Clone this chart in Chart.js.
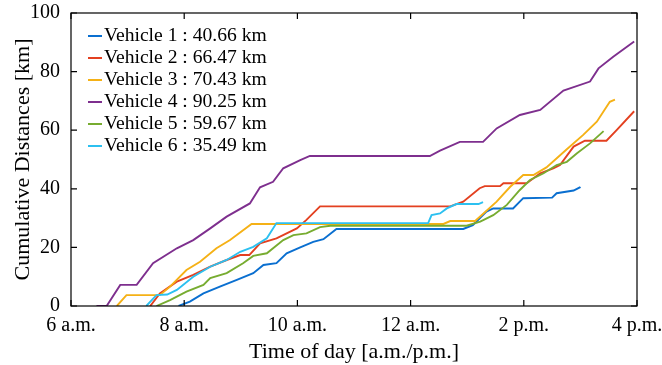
<!DOCTYPE html>
<html>
<head>
<meta charset="utf-8">
<script src="https://cdn.jsdelivr.net/npm/chart.js@4/dist/chart.umd.min.js"></script>
<style>
  body { margin: 0; background: #fff; }
  #wrap { position: relative; width: 662px; height: 365px; }
  #legend { position: absolute; left: 88px; top: 24px; font-family: 'Liberation Serif', 'Times New Roman', serif; font-size: 19.6px; color: #000; }
  .row { height: 22px; line-height: 22px; white-space: nowrap; }
  .swatch { display: inline-block; width: 14px; height: 2px; vertical-align: middle; margin-right: 2px; position: relative; top: -1px; }
</style>
</head>
<body>
<div id="wrap">
  <canvas id="chart" width="662" height="365"></canvas>
  <div id="legend"></div>
</div>
<script>
const timeLabels = ['6 a.m.', '8 a.m.', '10 a.m.', '12 a.m.', '2 p.m.', '4 p.m.'];
const vehicleNames = ['Vehicle 1 : 40.66 km', 'Vehicle 2 : 66.47 km', 'Vehicle 3 : 70.43 km',
  'Vehicle 4 : 90.25 km', 'Vehicle 5 : 59.67 km', 'Vehicle 6 : 35.49 km'];
const colors = ['#0a6fd0', '#e34020', '#f5b116', '#7e2f8e', '#77ac30', '#2cc0f0'];

// hours of day / cumulative km
const v1Time = [7.9, 8.1, 8.34, 8.63, 8.93, 9.22, 9.4, 9.63, 9.81, 10.05, 10.28, 10.46, 10.69, 12.93, 13.1, 13.34, 13.46, 13.81, 13.99, 14.5, 14.58, 14.88, 14.99, 15.0];
const v1Km = [0, 1.5, 4.3, 6.6, 8.9, 11.2, 14.0, 14.6, 18.0, 20.0, 21.9, 22.8, 26.3, 26.3, 27.6, 32.2, 33.3, 33.3, 36.8, 37.0, 38.5, 39.4, 40.5, 40.66];

const v2Time = [7.4, 7.57, 7.87, 8.16, 8.46, 8.75, 8.99, 9.15, 9.34, 9.63, 9.99, 10.16, 10.4, 12.7, 12.93, 13.22, 13.31, 13.58, 13.64, 14.05, 14.29, 14.52, 14.64, 14.88, 15.08, 15.46, 15.64, 15.95];
const v2Km = [0, 4.3, 8.3, 10.6, 13.4, 15.7, 17.4, 17.4, 21.4, 23.1, 26.5, 29.4, 34.0, 34.0, 35.6, 40.2, 40.9, 40.9, 41.9, 41.9, 45.3, 47.0, 48.1, 54.4, 56.4, 56.4, 60.0, 66.47];

const v3Time = [6.81, 6.98, 7.57, 7.75, 8.04, 8.28, 8.57, 8.81, 9.19, 12.58, 12.7, 13.14, 13.52, 13.76, 13.99, 14.17, 14.4, 14.76, 15.05, 15.29, 15.52, 15.61];
const v3Km = [0, 3.7, 3.7, 6.6, 12.3, 15.1, 19.7, 22.5, 28.0, 28.0, 29.0, 29.0, 35.6, 40.7, 44.7, 44.7, 47.3, 53.5, 58.4, 62.9, 69.7, 70.43];

const v4Time = [6.45, 6.63, 6.87, 7.16, 7.45, 7.87, 8.16, 8.46, 8.75, 9.16, 9.34, 9.57, 9.75, 10.05, 10.22, 12.34, 12.52, 12.87, 13.28, 13.52, 13.93, 14.29, 14.7, 15.17, 15.32, 15.58, 15.95];
const v4Km = [0, 0, 7.2, 7.2, 14.6, 19.7, 22.5, 26.5, 30.5, 35.0, 40.5, 42.4, 47.0, 49.8, 51.2, 51.2, 53.0, 56.0, 56.0, 60.6, 65.2, 66.9, 73.5, 76.6, 81.1, 85.1, 90.25];

const v5Time = [7.51, 7.75, 8.04, 8.34, 8.46, 8.75, 9.04, 9.22, 9.46, 9.75, 9.93, 10.16, 10.4, 10.58, 12.99, 13.23, 13.46, 13.7, 13.93, 14.11, 14.35, 14.58, 14.76, 14.94, 15.17, 15.41];
const v5Km = [0, 2.0, 4.9, 7.2, 9.5, 11.2, 14.6, 17.1, 18.0, 22.5, 24.2, 24.8, 26.9, 27.4, 27.4, 28.8, 31.0, 34.5, 39.6, 43.0, 45.3, 48.1, 49.2, 52.1, 55.5, 59.67];

const v6Time = [7.33, 7.51, 7.7, 7.87, 8.16, 8.46, 8.75, 8.99, 9.22, 9.46, 9.63, 12.31, 12.37, 12.52, 12.64, 12.81, 13.2, 13.28];
const v6Km = [0, 3.7, 3.9, 5.5, 10.0, 13.4, 15.7, 18.5, 20.2, 23.1, 28.3, 28.3, 31.0, 31.6, 33.3, 34.8, 34.8, 35.49];

const yTicks = [0, 20, 40, 60, 80, 100];

const series = [[v1Time, v1Km], [v2Time, v2Km], [v3Time, v3Km], [v4Time, v4Km], [v5Time, v5Km], [v6Time, v6Km]];
const FONT = "'Liberation Serif', 'Times New Roman', serif";

// matlab style box with inward ticks
const frame = {
  id: 'frame',
  afterDraw(chart) {
    const { ctx, chartArea: a, scales: { x, y } } = chart;
    ctx.save();
    ctx.strokeStyle = '#000';
    ctx.lineWidth = 1.2;
    ctx.strokeRect(a.left, a.top, a.right - a.left, a.bottom - a.top);
    ctx.beginPath();
    x.ticks.forEach(t => {
      const px = x.getPixelForValue(t.value);
      ctx.moveTo(px, a.bottom); ctx.lineTo(px, a.bottom - 6);
      ctx.moveTo(px, a.top); ctx.lineTo(px, a.top + 6);
    });
    y.ticks.forEach(t => {
      const py = y.getPixelForValue(t.value);
      ctx.moveTo(a.left, py); ctx.lineTo(a.left + 6, py);
      ctx.moveTo(a.right, py); ctx.lineTo(a.right - 6, py);
    });
    ctx.stroke();
    ctx.restore();
  }
};

const datasets = series.map(([t, km], i) => ({
  label: vehicleNames[i],
  data: t.map((h, j) => ({ x: h, y: km[j] })),
  borderColor: colors[i],
  borderWidth: 1.9,
  pointRadius: 0,
  tension: 0,
  fill: false,
  order: series.length - i
}));

new Chart(document.getElementById('chart'), {
  type: 'line',
  data: { datasets },
  options: {
    responsive: false,
    animation: false,
    devicePixelRatio: 1,
    layout: { padding: { top: 13, right: 25, left: 0, bottom: 0 } },
    plugins: { legend: { display: false }, tooltip: { enabled: false } },
    scales: {
      x: {
        type: 'linear',
        min: 6,
        max: 16,
        grid: { display: false },
        border: { display: false },
        afterBuildTicks: s => { s.ticks = timeLabels.map((_, i) => ({ value: 6 + i * 2 })); },
        afterFit: s => { s.height = 59; s.paddingLeft = 0; s.paddingRight = 0; },
        ticks: {
          maxRotation: 0,
          autoSkip: false,
          padding: 0,
          color: '#000',
          font: { family: FONT, size: 20 },
          callback: v => timeLabels[Math.round((v - 6) / 2)]
        },
        title: {
          display: true,
          text: 'Time of day [a.m./p.m.]',
          color: '#000',
          font: { family: FONT, size: 22 },
          padding: { top: 0, bottom: 0 }
        }
      },
      y: {
        min: 0,
        max: 100,
        grid: { display: false },
        border: { display: false },
        afterBuildTicks: s => { s.ticks = yTicks.map(v => ({ value: v })); },
        afterFit: s => { s.width = 71; s.paddingTop = 0; s.paddingBottom = 0; },
        ticks: {
          padding: 3,
          color: '#000',
          font: { family: FONT, size: 20 }
        },
        title: {
          display: true,
          text: 'Cumulative Distances [km]',
          color: '#000',
          font: { family: FONT, size: 22 },
          padding: { top: 10, bottom: 0 }
        }
      }
    }
  },
  plugins: [frame]
});

const legend = document.getElementById('legend');
vehicleNames.forEach((name, i) => {
  legend.innerHTML += `<div class="row"><span class="swatch" style="background:${colors[i]}"></span>${name}</div>`;
});
</script>
</body>
</html>
